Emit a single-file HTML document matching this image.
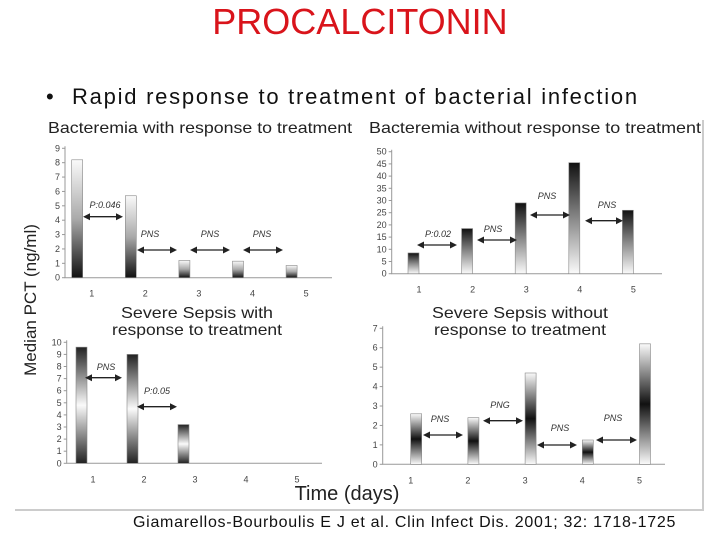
<!DOCTYPE html>
<html><head><meta charset="utf-8">
<style>
body{margin:0;width:720px;height:540px;background:#fff;overflow:hidden;font-family:"Liberation Sans",sans-serif;position:relative}
#title{position:absolute;left:0;top:0;width:720px;text-align:center;color:#d9141b;font-size:36px;line-height:44px}
#bullet{position:absolute;left:46px;top:84px;font-size:22px;color:#111}
#bullet span{position:absolute;left:26px;top:0;white-space:nowrap;letter-spacing:1.75px}
#cite{position:absolute;left:133px;top:514px;font-size:16px;color:#111;letter-spacing:0.72px;white-space:nowrap}
svg{position:absolute;left:0;top:0}
</style></head><body>
<div id="title">PROCALCITONIN</div>
<div id="bullet">•<span>Rapid response to treatment of bacterial infection</span></div>
<svg id="chart" width="720" height="540"></svg>
<div id="cite">Giamarellos-Bourboulis E J et al. Clin Infect Dis. 2001; 32: 1718-1725</div>
<script>
const categories=["1","2","3","4","5"];
const bactRespValues=[8.2,5.7,1.2,1.15,0.85];
const bactRespTicks=[0,1,2,3,4,5,6,7,8,9];
const bactNoRespValues=[8.5,18.5,29,45.5,26];
const bactNoRespTicks=[0,5,10,15,20,25,30,35,40,45,50];
const sepsisRespValues=[9.6,9.0,3.2,0,0];
const sepsisRespTicks=[0,1,2,3,4,5,6,7,8,9,10];
const sepsisNoRespValues=[2.6,2.4,4.7,1.25,6.2];
const sepsisNoRespTicks=[0,1,2,3,4,5,6,7];

const NS="http://www.w3.org/2000/svg";
const svg=document.getElementById('chart');
function mk(tag,attrs,parent){const e=document.createElementNS(NS,tag);for(const k in attrs)e.setAttribute(k,attrs[k]);(parent||svg).appendChild(e);return e;}
const defs=mk('defs',{});
function grad(id,stops){const g=mk('linearGradient',{id:id,x1:0,y1:0,x2:0,y2:1},defs);stops.forEach(s=>mk('stop',{offset:s[0],'stop-color':s[1]},g));}
grad('gUp',[[0,'#fafafa'],[0.5,'#aaa'],[1,'#111']]);
grad('gDown',[[0,'#111'],[0.5,'#888'],[1,'#fafafa']]);
grad('gEnds',[[0,'#222'],[0.5,'#fafafa'],[1,'#222']]);
grad('gMid',[[0,'#fafafa'],[0.5,'#111'],[1,'#fafafa']]);

const fr=mk('path',{d:'M15 510 L703 510 L703 120',stroke:'#ccc','stroke-width':2,fill:'none'});



const panels=[
 {name:'bacteremia-response',vals:bactRespValues,ticks:bactRespTicks,x0:65,x1:332,y0:277.7,yTop:148.3,max:9,cx0:91.7,step:53.6,barOff:-20,fill:'url(#gUp)',
  title:['Bacteremia with response to treatment'],tx:200,ty:133,tw:304,
  ann:[['P:0.046',105,208,83,123,216.7],['PNS',150,237,137,177,250],['PNS',210,237,190,230,250],['PNS',262,237,243,283,250]]},
 {name:'bacteremia-no-response',vals:bactNoRespValues,ticks:bactNoRespTicks,x0:391.7,x1:662,y0:273.7,yTop:151.7,max:50,cx0:419,step:53.6,barOff:-11,fill:'url(#gDown)',
  title:['Bacteremia without response to treatment'],tx:535,ty:133,tw:332,
  ann:[['P:0.02',438,237,417,457,245],['PNS',493,232,477,517,240],['PNS',547,199,530,570,215],['PNS',607,208,585,623,220.7]]},
 {name:'sepsis-response',vals:sepsisRespValues,ticks:sepsisRespTicks,x0:66.7,x1:322,y0:463.3,yTop:342.3,max:10,cx0:93,step:51,barOff:-17,fill:'url(#gEnds)',
  title:['Severe Sepsis with','response to treatment'],tx:197,ty:318,tw:[152,170],
  ann:[['PNS',106,370,85,122,377.7],['P:0.05',157,394,137,177,406.7]]},
 {name:'sepsis-no-response',vals:sepsisNoRespValues,ticks:sepsisNoRespTicks,x0:382.7,x1:665,y0:464.3,yTop:328.3,max:7,cx0:410.7,step:57.2,barOff:0,fill:'url(#gMid)',
  title:['Severe Sepsis without','response to treatment'],tx:520,ty:318,tw:[176,172],
  ann:[['PNS',440,422,423,463,435],['PNG',500,408,483,523,420.7],['PNS',560,431,537,577,445],['PNS',613,421,596,637,440]]}
];

panels.forEach(p=>{
 const g=mk('g',{});
 
 
 const y=v=>p.y0-(v/p.max)*(p.y0-p.yTop);
 const x=i=>p.cx0+i*p.step;
 p.title.forEach((t,i)=>{const w=Array.isArray(p.tw)?p.tw[i]:p.tw;
  const e=mk('text',{x:p.tx-w/2,y:p.ty+i*17,'font-size':16,fill:'#222',textLength:w,lengthAdjust:'spacingAndGlyphs'},g);e.textContent=t;
  
  });
 const ax=mk('path',{d:`M${p.x0} ${p.yTop-2} L${p.x0} ${p.y0} L${p.x1} ${p.y0}`,stroke:'#999','stroke-width':1,fill:'none'},g);
 
 
 p.ticks.forEach(t=>{mk('line',{x1:p.x0-3,x2:p.x0,y1:y(t),y2:y(t),stroke:'#999'},g);
  const e=mk('text',{x:p.x0-5,y:y(t)+3,'text-anchor':'end','font-size':9,fill:'#444'},g);e.textContent=t;
  
  });
 categories.forEach((c,i)=>{
  const e=mk('text',{x:x(i),y:p.y0+19,'text-anchor':'middle','font-size':9,fill:'#444'},g);e.textContent=c;
  
  
  const v=p.vals[i];
  if(v>0){const b=mk('rect',{x:x(i)+p.barOff,y:y(v),width:11,height:p.y0-y(v),fill:p.fill,stroke:'#888','stroke-width':0.6},g);
   
   }
 });
 p.ann.forEach(a=>{
  const t=mk('text',{x:a[1],y:a[2],'text-anchor':'middle','font-size':9,'font-style':'italic',fill:'#333'},g);t.textContent=a[0];
  
  
  const ag=mk('g',{},g);
  
  
  mk('line',{x1:a[3]+5,x2:a[4]-5,y1:a[5],y2:a[5],stroke:'#222','stroke-width':1.3},ag);
  mk('path',{d:`M${a[3]} ${a[5]} l7 -3.5 l0 7z M${a[4]} ${a[5]} l-7 -3.5 l0 7z`,fill:'#222'},ag);
 });
});
const yl=mk('text',{x:0,y:0,transform:'translate(36,300) rotate(-90)','text-anchor':'middle','font-size':17,fill:'#222'});
yl.textContent='Median PCT (ng/ml)';


const xl=mk('text',{x:347,y:500,'text-anchor':'middle','font-size':20,fill:'#222'});
xl.textContent='Time (days)';


</script>
</body></html>
